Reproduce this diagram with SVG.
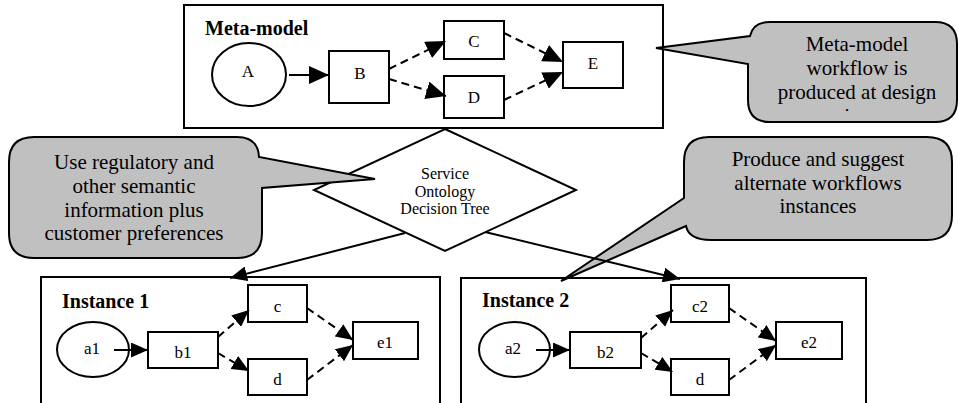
<svg xmlns="http://www.w3.org/2000/svg" width="958" height="403" viewBox="0 0 958 403" font-family="'Liberation Serif', 'DejaVu Serif', serif">
  <style>
    text { font-family: 'Liberation Serif', 'DejaVu Serif', serif; fill: #000; }
    .frame { fill: #fff; stroke: #000; stroke-width: 2; }
    .node { fill: #fff; stroke: #000; stroke-width: 2; }
    .title { font-size: 20px; font-weight: bold; }
    .lbl { font-size: 17px; text-anchor: middle; }
    .dia { font-size: 16px; text-anchor: middle; }
    .note { font-size: 21px; text-anchor: middle; }
    .bubble { fill: #c0c0c0; stroke: #000; stroke-width: 2; stroke-linejoin: miter; }
    .edge { fill: none; stroke: #000; stroke-width: 2; }
    .dash { stroke-dasharray: 8 5; }
  </style>
  <defs>
    <marker id="headL" markerUnits="userSpaceOnUse" markerWidth="20" markerHeight="18" refX="20" refY="9" orient="auto">
      <path d="M0,0 L20,9 L0,18 Z" fill="#000"/>
    </marker>
    <marker id="headS" markerUnits="userSpaceOnUse" markerWidth="17" markerHeight="15" refX="17" refY="7.5" orient="auto">
      <path d="M0,0 L17,7.5 L0,15 Z" fill="#000"/>
    </marker>
    <clipPath id="noteClip">
      <rect x="748" y="22" width="210" height="89"/>
    </clipPath>
  </defs>

  <!-- Meta-model frame -->
  <g id="meta-model">
    <rect class="frame" x="184" y="5" width="479" height="123"/>
    <text class="title" x="205" y="35">Meta-model</text>
  </g>
  <g id="node-A">
    <ellipse class="node" cx="249" cy="74.5" rx="37" ry="31.5"/>
    <text class="lbl" x="248" y="77">A</text>
  </g>
  <g id="node-B">
    <rect class="node" x="329" y="51" width="60" height="52"/>
    <text class="lbl" x="360" y="79">B</text>
  </g>
  <g id="node-C">
    <rect class="node" x="444" y="21" width="60" height="38"/>
    <text class="lbl" x="474" y="47">C</text>
  </g>
  <g id="node-D">
    <rect class="node" x="444" y="76" width="60" height="42"/>
    <text class="lbl" x="474" y="103">D</text>
  </g>
  <g id="node-E">
    <rect class="node" x="563" y="42" width="60" height="46"/>
    <text class="lbl" x="593" y="69">E</text>
  </g>

  <!-- Decision tree -->
  <g id="decision-tree">
    <polygon class="node" points="445,129 576,190 445,251 314,190"/>
    <text class="dia" x="445" y="179">Service</text>
    <text class="dia" x="445" y="196.5">Ontology</text>
    <text class="dia" x="445" y="214">Decision Tree</text>
  </g>

  <!-- Instance 1 -->
  <g id="instance-1">
    <rect class="frame" x="41" y="277" width="399" height="140"/>
    <text class="title" x="62" y="308">Instance 1</text>
  </g>
  <g id="node-a1">
    <ellipse class="node" cx="93" cy="349.5" rx="36" ry="27.5"/>
    <text class="lbl" x="92" y="354">a1</text>
  </g>
  <g id="node-b1">
    <rect class="node" x="148" y="332" width="70" height="36"/>
    <text class="lbl" x="183" y="358">b1</text>
  </g>
  <g id="node-c">
    <rect class="node" x="248" y="285" width="59" height="37"/>
    <text class="lbl" x="277.5" y="312">c</text>
  </g>
  <g id="node-d">
    <rect class="node" x="248" y="359" width="59" height="36"/>
    <text class="lbl" x="277.5" y="385">d</text>
  </g>
  <g id="node-e1">
    <rect class="node" x="353" y="322" width="65" height="37"/>
    <text class="lbl" x="385" y="348">e1</text>
  </g>

  <!-- Instance 2 -->
  <g id="instance-2">
    <rect class="frame" x="461" y="278" width="405" height="140"/>
    <text class="title" x="482" y="307">Instance 2</text>
  </g>
  <g id="node-a2">
    <ellipse class="node" cx="514.5" cy="349.5" rx="35.5" ry="27.5"/>
    <text class="lbl" x="513" y="354">a2</text>
  </g>
  <g id="node-b2">
    <rect class="node" x="570" y="332" width="71" height="36"/>
    <text class="lbl" x="605.5" y="358">b2</text>
  </g>
  <g id="node-c2">
    <rect class="node" x="671" y="285" width="58" height="37"/>
    <text class="lbl" x="700" y="312">c2</text>
  </g>
  <g id="node-d2">
    <rect class="node" x="671" y="359" width="58" height="36"/>
    <text class="lbl" x="700" y="385">d</text>
  </g>
  <g id="node-e2">
    <rect class="node" x="776" y="322" width="66" height="37"/>
    <text class="lbl" x="809" y="348">e2</text>
  </g>

  <!-- Callouts -->
  <g id="note-design">
    <path class="bubble" d="M770,22 H935 Q957,22 957,44 V100 Q957,122 935,122 H770 Q748,122 748,100 V64 L656,48 L750,36 Q753,22 770,22 Z"/>
    <g clip-path="url(#noteClip)">
      <text class="note" x="857" y="51">Meta-model</text>
      <text class="note" x="857" y="75">workflow is</text>
      <text class="note" x="857" y="99">produced at design</text>
      <text class="note" x="857" y="123">time</text>
    </g>
  </g>
  <g id="note-semantics">
    <path class="bubble" d="M34,137 H237 Q258,137 259,157 L375,179 L262,188 V233 Q262,258 237,258 H34 Q9,258 9,233 V162 Q9,137 34,137 Z"/>
    <text class="note" x="134" y="169">Use regulatory and</text>
    <text class="note" x="134" y="193">other semantic</text>
    <text class="note" x="134" y="217">information plus</text>
    <text class="note" x="134" y="240">customer preferences</text>
  </g>
  <g id="note-alternates">
    <path class="bubble" d="M709,137 H927 Q952,137 952,162 V215 Q952,240 927,240 H711 Q689,240 686,226 L561,281 L684,198 V162 Q684,137 709,137 Z"/>
    <text class="note" x="818" y="166">Produce and suggest</text>
    <text class="note" x="818" y="190">alternate workflows</text>
    <text class="note" x="818" y="213">instances</text>
  </g>

  <!-- Connectors -->
  <g id="connectors">
    <line class="edge" x1="289" y1="75" x2="329" y2="75" marker-end="url(#headL)"/>
    <line class="edge dash" x1="389" y1="69" x2="446" y2="41" marker-end="url(#headL)"/>
    <line class="edge dash" x1="389" y1="79" x2="446" y2="96" marker-end="url(#headL)"/>
    <line class="edge dash" x1="504" y1="33" x2="563" y2="62" marker-end="url(#headL)"/>
    <line class="edge dash" x1="504" y1="100" x2="563" y2="72" marker-end="url(#headL)"/>

    <line class="edge" x1="405" y1="233" x2="230" y2="278" marker-end="url(#headS)"/>
    <line class="edge" x1="485" y1="232" x2="680" y2="279" marker-end="url(#headS)"/>

    <line class="edge" x1="114" y1="350" x2="148" y2="350" marker-end="url(#headS)"/>
    <line class="edge dash" x1="218" y1="337" x2="249" y2="310" marker-end="url(#headS)"/>
    <line class="edge dash" x1="218" y1="353" x2="249" y2="371" marker-end="url(#headS)"/>
    <line class="edge dash" x1="307" y1="308" x2="353" y2="340" marker-end="url(#headS)"/>
    <line class="edge dash" x1="307" y1="380" x2="353" y2="345" marker-end="url(#headS)"/>

    <line class="edge" x1="536" y1="350" x2="570" y2="350" marker-end="url(#headS)"/>
    <line class="edge dash" x1="641" y1="338" x2="673" y2="310" marker-end="url(#headS)"/>
    <line class="edge dash" x1="641" y1="353" x2="673" y2="372" marker-end="url(#headS)"/>
    <line class="edge dash" x1="729" y1="308" x2="776" y2="341" marker-end="url(#headS)"/>
    <line class="edge dash" x1="729" y1="380" x2="776" y2="345" marker-end="url(#headS)"/>
  </g>
</svg>
